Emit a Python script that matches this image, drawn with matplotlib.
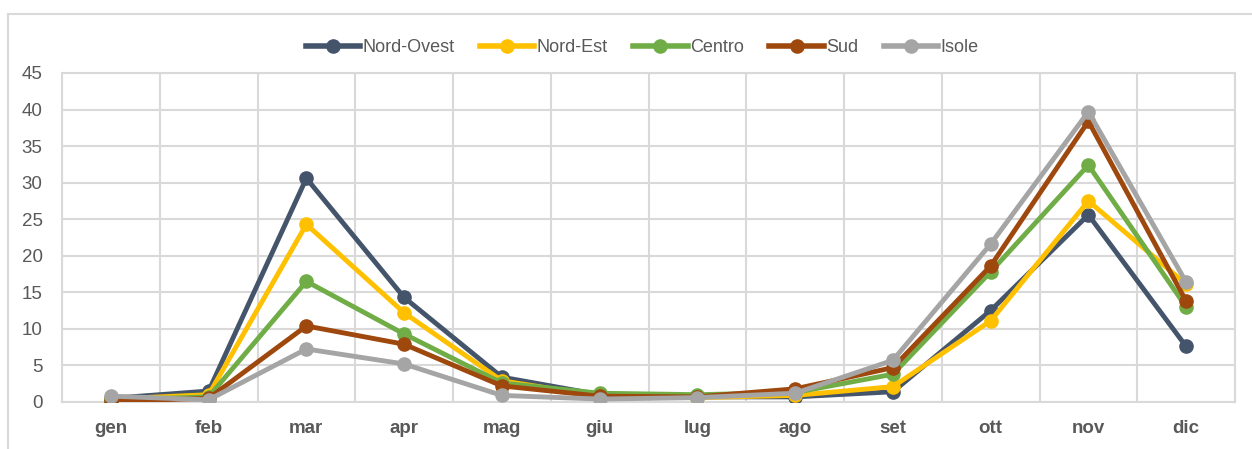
"""
Andamento mensile per ripartizione geografica (linee con marcatori)
"""
import matplotlib
matplotlib.use('Agg')
import matplotlib.pyplot as plt
from matplotlib.lines import Line2D
import numpy as np

plt.rcParams['font.family'] = ['Liberation Sans Narrow', 'Liberation Sans', 'DejaVu Sans']

mesi = ['gen', 'feb', 'mar', 'apr', 'mag', 'giu', 'lug', 'ago', 'set', 'ott', 'nov', 'dic']

nord_ovest = [0.5, 1.5, 30.6, 14.3, 3.4, 1.0, 0.7, 0.7, 1.4, 12.5, 25.6, 7.6]
nord_est   = [0.4, 1.0, 24.3, 12.2, 2.9, 0.8, 0.6, 0.9, 2.1, 11.1, 27.5, 16.1]
centro     = [0.3, 0.7, 16.5, 9.3, 2.6, 1.2, 1.0, 1.3, 3.8, 17.8, 32.4, 13.0]
sud        = [0.1, 0.5, 10.4, 7.9, 2.2, 0.8, 0.7, 1.8, 4.7, 18.6, 38.4, 13.8]
isole      = [0.8, 0.3, 7.25, 5.2, 0.9, 0.4, 0.6, 1.2, 5.7, 21.6, 39.7, 16.4]

serie = [
    ('Nord-Ovest', nord_ovest, '#44546A'),
    ('Nord-Est',   nord_est,   '#FFC000'),
    ('Centro',     centro,     '#70AD47'),
    ('Sud',        sud,        '#9E480E'),
    ('Isole',      isole,      '#A5A5A5'),
]

fig = plt.figure(figsize=(12.52, 4.49), dpi=100)
ax = fig.add_axes([62 / 1252, 1 - 402 / 449, (1235 - 62) / 1252, (402 - 73) / 449])

x = np.arange(len(mesi))
for nome, valori, colore in serie:
    ax.plot(x, valori, color=colore, linewidth=3.5, marker='o', markersize=9.5,
            label=nome, solid_capstyle='round', zorder=3)

# griglia
grid_c = '#D9D9D9'
ax.set_ylim(0, 45)
ax.set_yticks(np.arange(0, 46, 5))
ax.set_xlim(-0.5, len(mesi) - 0.5)
ax.set_xticks(x)
ax.set_xticklabels(mesi, fontweight='bold')
ax.set_xticks(np.arange(-0.5, len(mesi), 1), minor=True)
ax.grid(True, axis='y', color=grid_c, linewidth=1.5)
ax.grid(True, axis='x', which='minor', color=grid_c, linewidth=1.5)
ax.grid(False, axis='x', which='major')
for s in ax.spines.values():
    s.set_color(grid_c)
    s.set_linewidth(1.5)
ax.tick_params(axis='both', which='both', length=0, labelsize=13.5, colors='#595959')
ax.tick_params(axis='x', pad=13)
ax.tick_params(axis='y', pad=14)
ax.set_axisbelow(True)

handles = [Line2D([0], [0], color=c, linewidth=4, marker='o', markersize=9.5) for _, _, c in serie]
fig.legend(handles, [s[0] for s in serie], loc='center', bbox_to_anchor=(0.513, 1 - 48 / 449),
           ncol=5, frameon=False, fontsize=13, handlelength=3.0, handletextpad=0.15,
           columnspacing=1.4, labelcolor='#595959')

# cornice esterna
fig.add_artist(Line2D([8 / 1252, 8 / 1252], [0, 1 - 14 / 449], color=grid_c, linewidth=1.5,
                      transform=fig.transFigure))
fig.add_artist(Line2D([8 / 1252, 1], [1 - 14 / 449, 1 - 14 / 449], color=grid_c, linewidth=1.5,
                      transform=fig.transFigure))

fig.savefig('out.png', dpi=100)
